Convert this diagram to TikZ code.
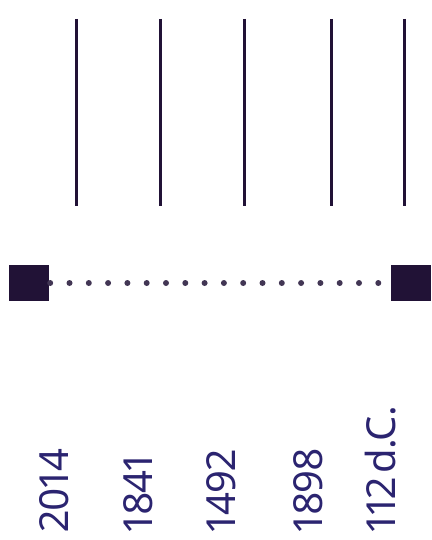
\documentclass[tikz,border=0pt]{standalone}
\usepackage{fontspec}
\setmainfont{Noto Sans}[Numbers=Proportional,WordSpace=0.4,LetterSpace=-2]
\definecolor{ink}{HTML}{211236}
\definecolor{labelink}{HTML}{2B2470}
\begin{document}
\begin{tikzpicture}[x=1pt,y=-1pt,
  tick/.style={draw=ink,line width=3pt},
  endbox/.style={rectangle,fill=ink,inner sep=0pt,minimum width=40pt,minimum height=36pt},
  dotline/.style={draw=ink!85,line width=6pt,line cap=round,dash pattern=on 0pt off 19.3pt},
  yearlabel/.style={rotate=90,anchor=base west,inner sep=0pt,text=labelink,font=\fontsize{40}{40}\selectfont}]
\useasboundingbox (0,0) rectangle (431,540);
% vertical ticks
\foreach \x/\n in {76/a,160/b,244/c,331/d,404/e}{
  \coordinate (t\n) at (\x,19);
  \coordinate (b\n) at (\x,206);
  \draw[tick] (t\n) -- (b\n);
}
% timeline
\node[endbox] (left) at (29,283) {};
\node[endbox] (right) at (411,283) {};
\draw[dotline] ([xshift=1pt]left.east) -- (right.west);
% labels
\node[yearlabel] (l1) at (68,533) {2014};
\node[yearlabel] (l2) at (152,533) {1841};
\node[yearlabel] (l3) at (235,533) {1492};
\node[yearlabel] (l4) at (322,533) {1898};
\node[yearlabel] (l5) at (395,533) {112 d.C.};
\end{tikzpicture}
\end{document}
